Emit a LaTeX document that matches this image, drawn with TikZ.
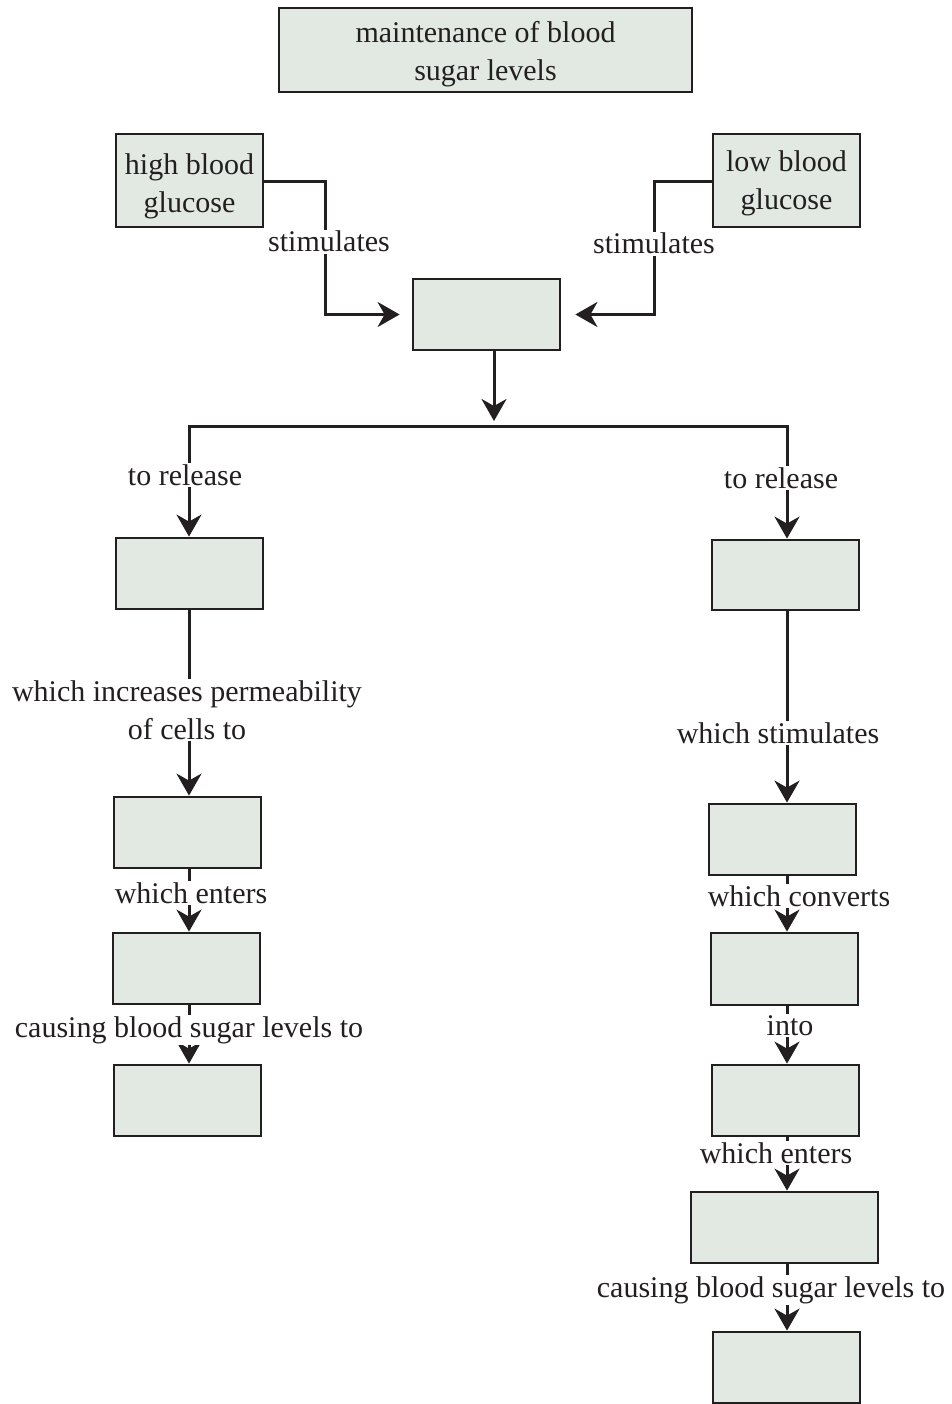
\documentclass[tikz,border=0pt]{standalone}
\usepackage{fontspec}
\setmainfont{Liberation Serif}
\usetikzlibrary{arrows.meta}
\pgfdeclarelayer{background}
\pgfsetlayers{background,main}
\definecolor{boxfill}{HTML}{E1E9E2}
\definecolor{ink}{HTML}{231F20}
\begin{document}
\begin{tikzpicture}[x=1pt,y=-1pt,
  every node/.style={text=ink, font=\fontsize{30}{38}\selectfont},
  box/.style={draw=ink, fill=boxfill, line width=2.8pt, inner sep=0pt, align=center,
    minimum width=147pt, minimum height=71pt},
  conn/.style={draw=ink, line width=3pt},
  arr/.style={conn, -{Stealth[length=22pt,width=25pt,inset=7pt]}},
  lbl/.style={fill=white, inner sep=1.5pt, anchor=base, align=center}
]
\useasboundingbox (0,0) rectangle (951,1404);

% boxes
\node[box, minimum width=413pt, minimum height=84pt] (title) at (485.5,50) {\rule{0pt}{30pt}maintenance of blood\\sugar levels};
\node[box, minimum height=93pt] (high) at (189.5,180.5) {\rule{0pt}{33pt}high blood\\glucose};
\node[box, minimum height=93pt] (low) at (786.5,180.5) {\rule{0pt}{27pt}low blood\\glucose};
\node[box] (ctr) at (486.5,314.5) {};
\node[box] (L1) at (189.5,573.5) {};
\node[box] (L2) at (187.5,832.5) {};
\node[box] (L3) at (186.5,968.5) {};
\node[box] (L4) at (187.5,1100.5) {};
\node[box, minimum height=70pt] (R1) at (785.5,575) {};
\node[box] (R2) at (782.5,839.5) {};
\node[box, minimum height=72pt] (R3) at (784.5,969) {};
\node[box] (R4) at (785.5,1100.5) {};
\node[box, minimum width=187pt] (R5) at (784.5,1227.5) {};
\node[box] (R6) at (786.5,1367.5) {};

% helper coordinates
\coordinate (cL) at (325,182);
\coordinate (cR) at (654,182);
\coordinate (junc) at (494,426);
\coordinate (colL) at (189,0);
\coordinate (colR) at (787,0);

\begin{pgfonlayer}{background}
\fill[white] (0,0) rectangle (951,1404);
% connectors
\draw[arr, shorten >=12pt] (high.east |- cL) -- (cL) |- (ctr.west);
\draw[arr, shorten >=14pt] (low.west |- cR) -- (cR) |- (ctr.east);
\draw[arr, shorten >=5pt] (ctr.south -| junc) -- (junc);
\draw[arr] (junc) -| (L1.north -| colL);
\draw[arr] (junc) -| (R1.north -| colR);
\draw[arr] (L1.south -| colL) -- (L2.north -| colL);
\draw[arr] (L2.south -| colL) -- (L3.north -| colL);
\draw[arr] (L3.south -| colL) -- (L4.north -| colL);
\draw[arr] (R1.south -| colR) -- (R2.north -| colR);
\draw[arr] (R2.south -| colR) -- (R3.north -| colR);
\draw[arr] (R3.south -| colR) -- (R4.north -| colR);
\draw[arr] (R4.south -| colR) -- (R5.north -| colR);
\draw[arr] (R5.south -| colR) -- (R6.north -| colR);

% labels
\node[lbl] (s1) at (329,252) {stimulates};
\node[lbl] (s2) at (654,254) {stimulates};
\node[lbl] (tr1) at (185,485) {to release};
\node[lbl] (tr2) at (781,488) {to release};
\node[lbl] (wi) at (187,739) {which increases permeability\\of cells to};
\node[lbl] (ws) at (778,743) {which stimulates};
\node[lbl] (we1) at (191,903) {which enters};
\node[lbl] (cb1) at (189,1037) {causing blood sugar levels to};
\node[lbl] (wc) at (799,906) {which converts};
\node[lbl] (in) at (790,1035) {into};
\node[lbl] (we2) at (776,1163) {which enters};
\node[lbl] (cb2) at (771,1297) {causing blood sugar levels to};
\end{pgfonlayer}
\end{tikzpicture}
\end{document}
